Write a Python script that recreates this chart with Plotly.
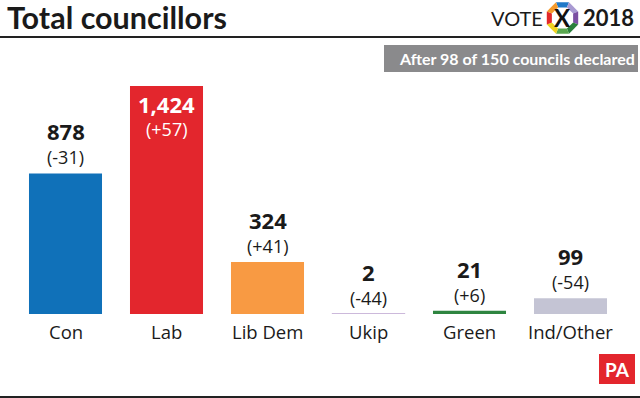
import math
import plotly.graph_objects as go

# ---- data ----
parties = ["Con", "Lab", "Lib Dem", "Ukip", "Green", "Ind/Other"]
councillors = [878, 1424, 324, 2, 21, 99]
changes = ["(-31)", "(+57)", "(+41)", "(-44)", "(+6)", "(-54)"]
colors = ["#1071b9", "#e3262d", "#f89a43", "#c8b4d8", "#2e8540", "#c4c4d4"]
value_labels = ["878", "1,424", "324", "2", "21", "99"]

W, H = 640, 398
L, R, T, B = 15, 19, 86, 84
PW, PH = W - L - R, H - T - B

def px(x):
    return (x - L) / PW

def py(y):
    return (H - B - y) / PH

FONT = "Open Sans, Noto Sans, sans-serif"
TFONT = "Lato, Noto Sans, sans-serif"

fig = go.Figure()
fig.add_trace(go.Bar(
    x=parties, y=councillors,
    marker=dict(color=colors,
                line=dict(color=colors, width=[0, 0, 0, 1, 0, 0])),
    hoverinfo="skip",
))

annotations = []
for i, (p, v, lab, ch) in enumerate(zip(parties, councillors, value_labels, changes)):
    inside = v == max(councillors)
    if inside:
        annotations.append(dict(x=p, y=v, xref="x", yref="y", text=f"<b>{lab}</b>",
                                showarrow=False, yanchor="middle", yshift=-18,
                                font=dict(family=FONT, size=22, color="white")))
        annotations.append(dict(x=p, y=v, xref="x", yref="y", text=ch,
                                showarrow=False, yanchor="middle", yshift=-43,
                                font=dict(family=FONT, size=18, color="white")))
    else:
        annotations.append(dict(x=p, y=v, xref="x", yref="y", text=f"<b>{lab}</b>",
                                showarrow=False, yanchor="middle", yshift=42,
                                font=dict(family=FONT, size=22, color="#1a1a1a")))
        annotations.append(dict(x=p, y=v, xref="x", yref="y", text=ch,
                                showarrow=False, yanchor="middle", yshift=16,
                                font=dict(family=FONT, size=18, color="#1a1a1a")))
    annotations.append(dict(x=p, y=0, xref="x", yref="y", text=p,
                            showarrow=False, yanchor="middle", yshift=-17,
                            font=dict(family=FONT, size=18.5, color="#1a1a1a")))

# title
annotations.append(dict(x=px(5), y=py(17), xref="paper", yref="paper",
                        text="<b>Total councillors</b>", showarrow=False,
                        xanchor="left", yanchor="middle",
                        font=dict(family=TFONT, size=30.5, color="#1a1a1a")))
# banner text
annotations.append(dict(x=px(397), y=py(59), xref="paper", yref="paper",
                        text="<b>After 98 of 150 councils declared</b>", showarrow=False,
                        xanchor="left", yanchor="middle",
                        font=dict(family=TFONT, size=16, color="white")))
# VOTE 2018 logo text
annotations.append(dict(x=px(545), y=py(18), xref="paper", yref="paper",
                        text="VOTE", showarrow=False, xanchor="right", yanchor="middle",
                        font=dict(family=TFONT, size=20, color="#1a1a1a")))
annotations.append(dict(x=px(581), y=py(18), xref="paper", yref="paper",
                        text="<b>2018</b>", showarrow=False, xanchor="left", yanchor="middle",
                        font=dict(family=TFONT, size=22, color="#1a1a1a")))
annotations.append(dict(x=px(562.5), y=py(18), xref="paper", yref="paper",
                        text="<b>X</b>", showarrow=False, xanchor="center", yanchor="middle",
                        font=dict(family=TFONT, size=24, color="#111111")))
# PA logo text
annotations.append(dict(x=px(617), y=py(369), xref="paper", yref="paper",
                        text="<b>PA</b>", showarrow=False, xanchor="center", yanchor="middle",
                        font=dict(family=TFONT, size=19, color="white")))

shapes = []
# title rule
shapes.append(dict(type="line", xref="paper", yref="paper",
                   x0=px(0), x1=px(640), y0=py(37), y1=py(37),
                   line=dict(color="#222222", width=2)))
# banner
shapes.append(dict(type="rect", xref="paper", yref="paper",
                   x0=px(384), x1=px(638), y0=py(45), y1=py(72),
                   fillcolor="#8a8a8c", line=dict(width=0), layer="below"))
# PA logo
shapes.append(dict(type="rect", xref="paper", yref="paper",
                   x0=px(599), x1=px(635), y0=py(354), y1=py(384),
                   fillcolor="#e3262d", line=dict(width=0)))
# bottom rule
shapes.append(dict(type="line", xref="paper", yref="paper",
                   x0=px(0), x1=px(640), y0=py(397), y1=py(397),
                   line=dict(color="#222222", width=2)))
# octagon of coloured segments
oct_colors = ["#1f78c8", "#a99ad2", "#7b4fa2", "#2a7f3a",
              "#5aa850", "#f0d21e", "#e2292b", "#f49a2c"]
cx, cy, ro, ri = 562.5, 18, 17, 11.5
for k in range(8):
    a0 = math.radians(-90 - 22.5 + 45 * k)
    a1 = math.radians(-90 + 22.5 + 45 * k)
    pts = [(cx + ro * math.cos(a0), cy + ro * math.sin(a0)),
           (cx + ro * math.cos(a1), cy + ro * math.sin(a1)),
           (cx + ri * math.cos(a1), cy + ri * math.sin(a1)),
           (cx + ri * math.cos(a0), cy + ri * math.sin(a0))]
    path = "M " + " L ".join(f"{px(x):.5f},{py(y):.5f}" for x, y in pts) + " Z"
    shapes.append(dict(type="path", xref="paper", yref="paper", path=path,
                       fillcolor=oct_colors[k], line=dict(width=0)))

fig.update_layout(
    width=W, height=H,
    margin=dict(l=L, r=R, t=T, b=B, pad=0),
    paper_bgcolor="white", plot_bgcolor="white",
    showlegend=False,
    bargap=0.277,
    xaxis=dict(range=[-0.5, 5.5], showticklabels=False, showgrid=False,
               zeroline=False, showline=False, ticks=""),
    yaxis=dict(range=[0, 1424], visible=False, showgrid=False, zeroline=False),
    annotations=annotations,
    shapes=shapes,
)

fig.write_html("out.html", config={"displayModeBar": False},
               post_script="document.body.style.margin='0';document.body.style.overflow='hidden';")
